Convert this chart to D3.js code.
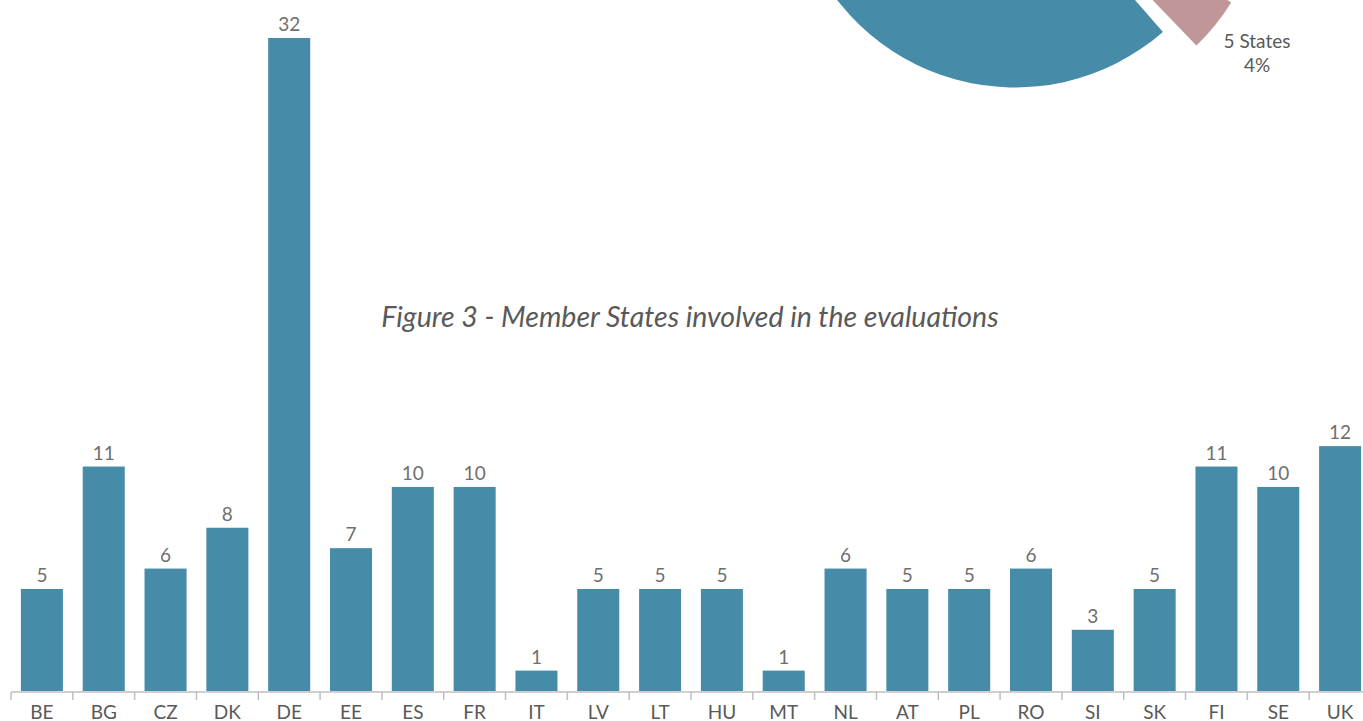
<!DOCTYPE html>
<html>
<head>
<meta charset="utf-8">
<script src="https://cdn.jsdelivr.net/npm/d3@7"></script>
<style>
  body { margin: 0; background: #fff; }
  svg { display: block; font-family: Lato, "Open Sans", sans-serif; }
</style>
</head>
<body>
<svg id="chart" width="1363" height="721"></svg>
<script>
'use strict';

// countries and number of evaluations
const countries = ['BE', 'BG', 'CZ', 'DK', 'DE', 'EE', 'ES', 'FR', 'IT', 'LV', 'LT',
  'HU', 'MT', 'NL', 'AT', 'PL', 'RO', 'SI', 'SK', 'FI', 'SE', 'UK'];
const evaluations = [5, 11, 6, 8, 32, 7, 10, 10, 1, 5, 5, 5, 1, 6, 5, 5, 6, 3, 5, 11, 10, 12];

// pie at the top (mostly cut off), only the small slice is labelled
const pieNames = ['5 States', 'rest'];
const pieShares = [4, 96];

const caption = 'Figure 3 - Member States involved in the evaluations';

const BAR_COLOR = '#468ca8';
const PINK = '#c09799';
const TEXT_COLOR = '#595959';

const svg = d3.select('#chart');
const deg = a => a * Math.PI / 180;

// --- pie (its center is above the top edge)
const pieG = svg.append('g').attr('transform', 'translate(1015,-137)');
const R = 224.5;
const pie = d3.pie()
  .sort(null)
  .value(d => d.value)
  .startAngle(deg(121.9))
  .endAngle(deg(121.9 + 360))
  .padAngle(deg(2.7));
const arc = d3.arc().innerRadius(0).outerRadius(R);
const slices = pie(pieShares.map((v, i) => ({name: pieNames[i], value: v})));

pieG.selectAll('path')
  .data(slices)
  .enter()
  .append('path')
  .attr('fill', (d, i) => i === 0 ? PINK : BAR_COLOR)
  .attr('transform', (d, i) => {
    if (i !== 0) return null;
    // small slice is pulled out
    const mid = (d.startAngle + d.endAngle - d.padAngle) / 2;
    return `translate(${33 * Math.sin(mid)},${-33 * Math.cos(mid)})`;
  })
  .attr('d', d => arc({startAngle: d.startAngle, endAngle: d.endAngle - d.padAngle}));

const pieLabel = svg.append('text')
  .attr('x', 1257)
  .attr('y', 48)
  .attr('text-anchor', 'middle')
  .attr('fill', TEXT_COLOR)
  .style('font-size', '19px');
pieLabel.append('tspan').attr('x', 1257).text(slices[0].data.name);
pieLabel.append('tspan').attr('x', 1257).attr('dy', 24)
  .text(d3.format('.0%')(slices[0].data.value / d3.sum(pieShares)));

// --- caption
svg.append('text')
  .attr('x', 690)
  .attr('y', 327)
  .attr('text-anchor', 'middle')
  .attr('fill', TEXT_COLOR)
  .style('font-size', '28.5px')
  .style('font-style', 'italic')
  .text(caption);

// --- bar chart
const x = d3.scaleBand()
  .domain(countries)
  .range([11, 1371])
  .paddingInner(0.32)
  .paddingOuter(0.16);

const y = d3.scaleLinear()
  .domain([0, 32])
  .range([691, 38]);

const baseY = 692;

svg.selectAll('rect.bar')
  .data(countries)
  .enter()
  .append('rect')
  .attr('class', 'bar')
  .attr('fill', BAR_COLOR)
  .attr('x', c => x(c))
  .attr('width', x.bandwidth())
  .attr('y', (c, i) => y(evaluations[i]))
  .attr('height', (c, i) => y(0) - y(evaluations[i]));

svg.selectAll('text.value')
  .data(countries)
  .enter()
  .append('text')
  .attr('class', 'value')
  .attr('text-anchor', 'middle')
  .attr('fill', '#6f6f6f')
  .style('font-size', '19px')
  .attr('x', c => x(c) + x.bandwidth() / 2)
  .attr('y', (c, i) => y(evaluations[i]) - 7)
  .text((c, i) => evaluations[i]);

// x axis: labels from the axis, tick marks between categories
const axis = svg.append('g')
  .attr('transform', `translate(0,${baseY})`)
  .call(d3.axisBottom(x).tickSize(0).tickPadding(14));
axis.select('.domain').remove();
axis.selectAll('text')
  .attr('fill', TEXT_COLOR)
  .style('font-size', '19px')
  .style('font-family', 'Lato, "Open Sans", sans-serif');

const half = x.step() * x.paddingInner() / 2;
const boundaries = countries.map(c => x(c) - half);

svg.append('line')
  .attr('x1', boundaries[0])
  .attr('x2', 1363)
  .attr('y1', baseY)
  .attr('y2', baseY)
  .attr('stroke', '#bfbfbf')
  .attr('stroke-width', 1.5);

svg.selectAll('line.tick-mark')
  .data(boundaries)
  .enter()
  .append('line')
  .attr('class', 'tick-mark')
  .attr('x1', b => b)
  .attr('x2', b => b)
  .attr('y1', baseY)
  .attr('y2', baseY + 8)
  .attr('stroke', '#bfbfbf')
  .attr('stroke-width', 1.5);
</script>
</body>
</html>
